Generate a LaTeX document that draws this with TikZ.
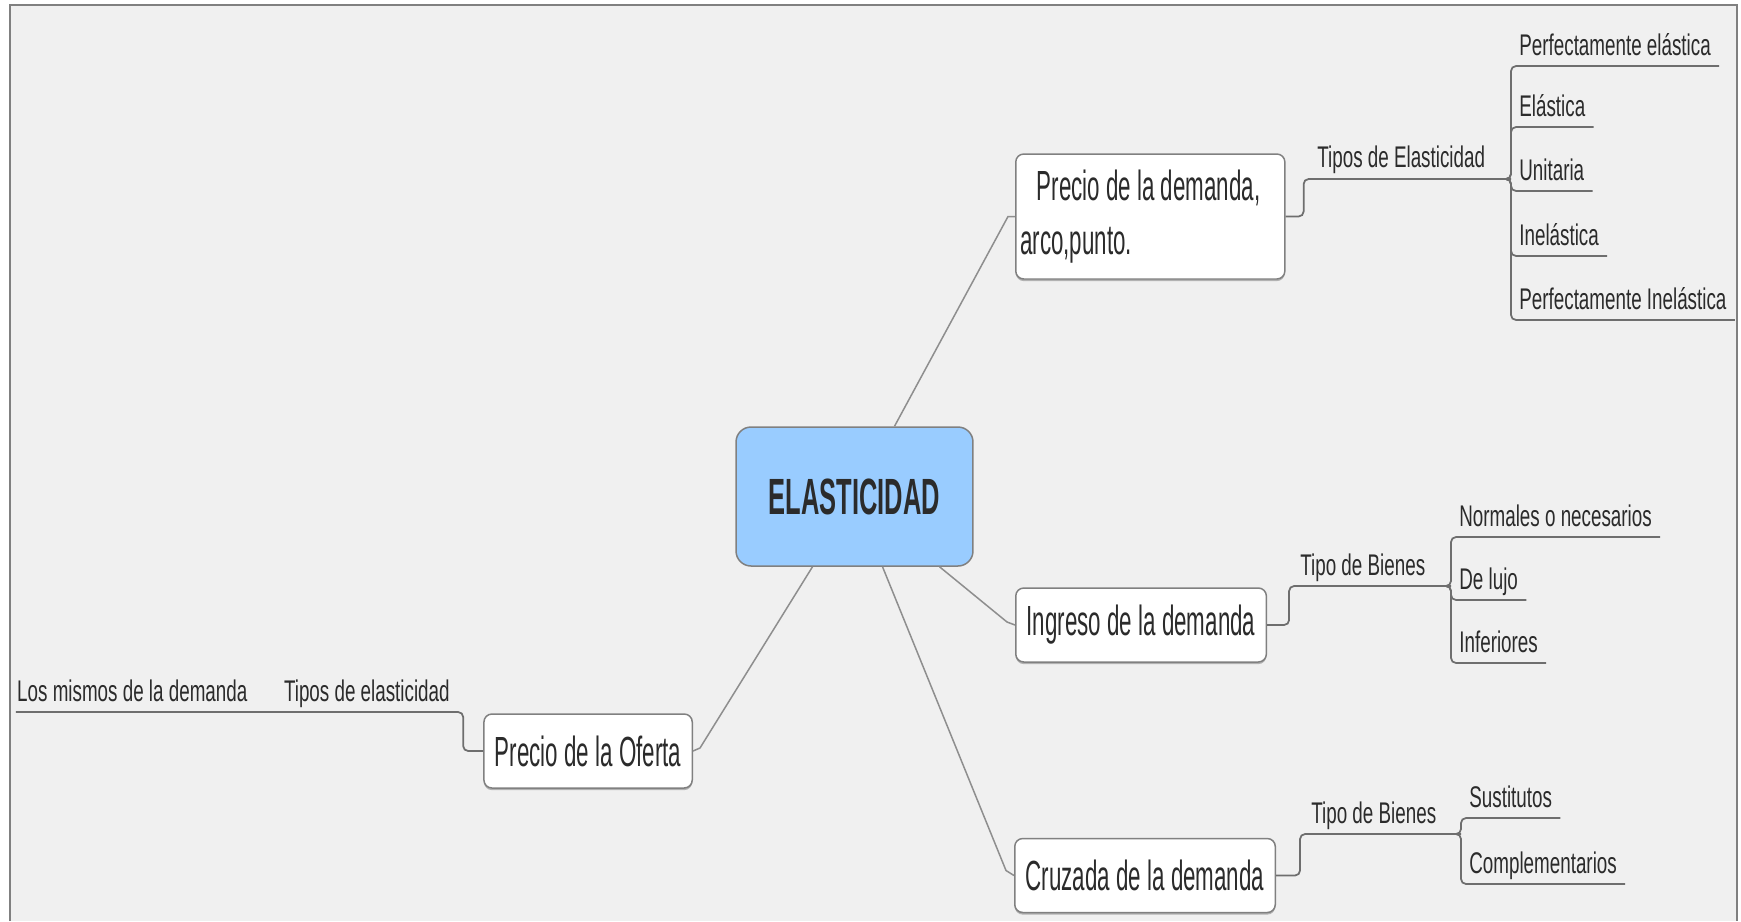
\documentclass[tikz,border=0pt]{standalone}
\usepackage{fontspec}
\setmainfont{Liberation Sans}
\newfontfamily\hubfont{Liberation Sans}[FakeStretch=0.5]
\newfontfamily\topicfont{Liberation Sans}[FakeStretch=0.53]
\newfontfamily\leaffont{Liberation Sans}[FakeStretch=0.63]
\usepackage{xcolor}
\usepackage{tikz}
\usetikzlibrary{positioning, calc, shadows}
\definecolor{paper}{HTML}{F0F0F0}
\definecolor{framegray}{HTML}{808080}
\definecolor{hubblue}{HTML}{99CCFF}
\definecolor{edgegray}{HTML}{8E8E8E}
\definecolor{branchgray}{HTML}{6E6E6E}
\definecolor{inkgray}{HTML}{2B2B2B}
\tikzset{
    baseblock/.style={rectangle, draw=framegray, line width=0.03cm, text=inkgray, text centered},
    hubblock/.style={baseblock, rounded corners=0.3cm, fill=hubblue, font=\hubfont\bfseries\fontsize{29pt}{34pt}\selectfont, minimum width=4.74cm, minimum height=2.78cm},
    topicblock/.style={baseblock, rounded corners=0.16cm, fill=white, font=\topicfont\fontsize{24pt}{31pt}\selectfont, inner xsep=0.22cm, minimum height=1.48cm, drop shadow={shadow xshift=0pt, shadow yshift=-1.2pt, fill=black!30, opacity=1}},
    leaflabel/.style={anchor=south west, text=inkgray, font=\leaffont\fontsize{17pt}{20pt}\selectfont, inner xsep=0.16cm, inner ysep=0.21cm, text height=13pt, text depth=0pt},
    spoke/.style={draw=edgegray, line width=0.03cm},
    branch/.style={draw=branchgray, line width=0.035cm, rounded corners=0.1cm}
}

\begin{document}
\begin{tikzpicture}[x=0.02cm, y=-0.02cm]
    \useasboundingbox (0,0) rectangle (1741,921);
    \fill[white] (0,0) rectangle (1741,921);
    \fill[paper] (10,5) rectangle (1737,921);
    \draw[framegray, line width=0.05cm] (10,921) -- (10,5) -- (1737,5) -- (1737,921);

    % centre and first level
    \node (elast) [hubblock] at (854.5,496.5) {ELASTICIDAD};
    \node (pd) [topicblock, anchor=west, inner xsep=0.09cm, minimum height=2.5cm, align=left] at (1015,216.5) {\hspace*{0.33cm}Precio de la demanda,\hspace*{0.4cm}\\arco,punto.};
    \node (ingr) [topicblock, anchor=west] at (1015,625) {Ingreso de la demanda};
    \node (cruz) [topicblock, anchor=west] at (1014,875.5) {Cruzada de la demanda};
    \node (oferta) [topicblock, anchor=east] at (693,751) {Precio de la Oferta};

    \draw [spoke] ($(elast.north)+(40,0)$) -- ($(pd.west)+(-7,0)$) -- (pd.west);
    \draw [spoke] ($(elast.south)+(85,0)$) -- ($(ingr.west)+(-8,-3)$) -- (ingr.west);
    \draw [spoke] ($(elast.south)+(28,0)$) -- ($(cruz.west)+(-8,-5)$) -- (cruz.west);
    \draw [spoke] ($(elast.south)+(-42,0)$) -- ($(oferta.east)+(7,-3)$) -- (oferta.east);

    % precio de la demanda
    \node (tiposE) [leaflabel] at (1309,178) {Tipos de Elasticidad};
    \coordinate (hubE) at (1511,179);
    \node (pe) [leaflabel] at (1511,66) {Perfectamente elástica};
    \node (el) [leaflabel] at (1511,127) {Elástica};
    \node (un) [leaflabel] at (1511,191) {Unitaria};
    \node (ine) [leaflabel] at (1511,256) {Inelástica};
    \node (pi) [leaflabel] at (1511,320) {Perfectamente Inelástica};
    \draw [branch] (pd.east) -- ++(18,0) |- (hubE);
    \foreach \leaf in {pe,el,un,ine,pi}
        \draw [branch] ($(hubE)+(-8,0)$) -- (hubE) |- (\leaf.south east);

    % ingreso
    \node (tiposI) [leaflabel] at (1292,586) {Tipo de Bienes};
    \coordinate (hubI) at (1451,586);
    \node (norm) [leaflabel] at (1451,537) {Normales o necesarios};
    \node (lujo) [leaflabel] at (1451,600) {De lujo};
    \node (infer) [leaflabel] at (1451,663) {Inferiores};
    \draw [branch] (ingr.east) -- ++(22,0) |- (hubI);
    \foreach \leaf in {norm,lujo,infer}
        \draw [branch] ($(hubI)+(-8,0)$) -- (hubI) |- (\leaf.south east);

    % cruzada
    \node (tiposC) [leaflabel] at (1303,834) {Tipo de Bienes};
    \coordinate (hubC) at (1461,834);
    \node (sust) [leaflabel] at (1461,818) {Sustitutos};
    \node (compl) [leaflabel] at (1461,884) {Complementarios};
    \draw [branch] (cruz.east) -- ++(24,0) |- (hubC);
    \foreach \leaf in {sust,compl}
        \draw [branch] ($(hubC)+(-8,0)$) -- (hubC) |- (\leaf.south east);

    % oferta
    \node (tiposO) [leaflabel, anchor=south east] at (458,712) {Tipos de elasticidad};
    \node (losmismos) [leaflabel, left=0.4cm of tiposO] {Los mismos de la demanda};
    \draw [branch] (oferta.west) -- ++(-20,0) |- ($(losmismos.south west)+(7,0)$);
\end{tikzpicture}
\end{document}
